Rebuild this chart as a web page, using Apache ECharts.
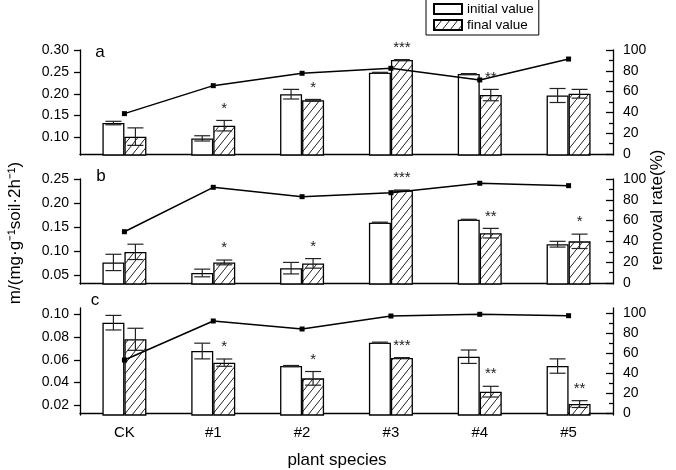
<!DOCTYPE html>
<html>
<head>
<meta charset="utf-8">
<script src="https://cdn.jsdelivr.net/npm/echarts@6/dist/echarts.min.js"></script>
<style>
html, body { margin: 0; padding: 0; background: #fff; }
#chart { width: 676px; height: 470px; }
</style>
</head>
<body>
<div id="chart"></div>
<script>
const species = ['CK', '#1', '#2', '#3', '#4', '#5']

// panel a
const initA = [0.133, 0.098, 0.199, 0.248, 0.245, 0.196]
const initErrA = [0.004, 0.006, 0.011, 0.001, 0.001, 0.016]
const finalA = [0.102, 0.127, 0.185, 0.277, 0.197, 0.200]
const finalErrA = [0.020, 0.012, 0.002, 0.001, 0.013, 0.010]
const rateA = [38.8, 65.7, 77.6, 82.4, 71.2, 91.3]
const starsA = ['', '*', '*', '***', '**', '']
const ticksA = [0.10, 0.15, 0.20, 0.25, 0.30]

// panel b
const initB = [0.076, 0.054, 0.064, 0.159, 0.165, 0.114]
const initErrB = [0.017, 0.008, 0.012, 0.001, 0.001, 0.006]
const finalB = [0.098, 0.076, 0.074, 0.226, 0.137, 0.120]
const finalErrB = [0.016, 0.005, 0.010, 0.001, 0.010, 0.015]
const rateB = [49.3, 92.0, 83.0, 86.8, 95.9, 93.6]
const starsB = ['', '*', '*', '***', '**', '*']
const ticksB = [0.05, 0.10, 0.15, 0.20, 0.25]

// panel c
const initC = [0.0926, 0.0677, 0.0545, 0.075, 0.0627, 0.0545]
const initErrC = [0.0064, 0.0069, 0.0005, 0.0005, 0.0059, 0.0063]
const finalC = [0.078, 0.0575, 0.0437, 0.0616, 0.032, 0.0211]
const finalErrC = [0.0097, 0.0032, 0.006, 0.0003, 0.0047, 0.003]
const rateC = [53.3, 92.3, 84.3, 97.3, 99.0, 97.6]
const starsC = ['', '*', '*', '***', '**', '**']
const ticksC = [0.02, 0.04, 0.06, 0.08, 0.10]

// removal rate axis
const rateTicks = [0, 20, 40, 60, 80, 100]
const rateMinorTicks = [10, 30, 50, 70, 90]

const FONT = '"Liberation Sans", Arial, sans-serif'

// hatch pattern for final value bars
const hatch = document.createElement('canvas')
hatch.width = 8
hatch.height = 10
const hctx = hatch.getContext('2d')
hctx.fillStyle = '#fff'
hctx.fillRect(0, 0, 8, 10)
hctx.strokeStyle = '#222'
hctx.lineWidth = 1
hctx.beginPath()
hctx.moveTo(-0.8, 11)
hctx.lineTo(8.8, -1)
hctx.stroke()
const hatchFill = { image: hatch, repeat: 'repeat' }

const panels = [
	{ init: initA, initErr: initErrA, fin: finalA, finErr: finalErrA, rate: rateA, stars: starsA, ticks: ticksA,
		top: 50, height: 105, min: 0.06, max: 0.30, rMin: -1, rMax: 100, name: 'a', nx: 100, ny: 52 },
	{ init: initB, initErr: initErrB, fin: finalB, finErr: finalErrB, rate: rateB, stars: starsB, ticks: ticksB,
		top: 179, height: 105, min: 0.031, max: 0.25, rMin: -1, rMax: 100, name: 'b', nx: 101, ny: 176 },
	{ init: initC, initErr: initErrC, fin: finalC, finErr: finalErrC, rate: rateC, stars: starsC, ticks: ticksC,
		top: 308, height: 107, min: 0.0115, max: 0.1055, rMin: -1.7, rMax: 105.3, name: 'c', nx: 95, ny: 300 }
]

const errorBar = (offset) => (params, api) => {
	const cat = api.value(0)
	const v = api.value(1)
	const e = api.value(2)
	const hi = api.coord([cat, v + e])
	const lo = api.coord([cat, v - e])
	const x = hi[0] + offset
	const st = { stroke: '#222', lineWidth: 1.2 }
	return {
		type: 'group',
		children: [
			{ type: 'line', shape: { x1: x, y1: hi[1], x2: x, y2: lo[1] }, style: st },
			{ type: 'line', shape: { x1: x - 8, y1: hi[1], x2: x + 8, y2: hi[1] }, style: st },
			{ type: 'line', shape: { x1: x - 8, y1: lo[1], x2: x + 8, y2: lo[1] }, style: st }
		]
	}
}

const grid = []
const xAxis = []
const yAxis = []
const series = []

panels.forEach((p, i) => {
	grid.push({ left: 80, right: 63, top: p.top, height: p.height })
	xAxis.push({
		type: 'category', gridIndex: i, data: species, position: 'bottom',
		axisLine: { lineStyle: { color: '#000', width: 1.3 } },
		axisTick: { alignWithLabel: true, length: 5, lineStyle: { color: '#000', width: 1.3 } },
		axisLabel: { show: i === 2, color: '#000', fontSize: 15, margin: 10 },
		splitLine: { show: false }
	})
	xAxis.push({
		type: 'category', gridIndex: i, data: species, position: 'bottom', offset: 0,
		axisLine: { show: false },
		axisTick: { length: 5, lineStyle: { color: '#000', width: 1.3 } },
		axisLabel: { show: false },
		splitLine: { show: false }
	})
	yAxis.push({
		type: 'value', gridIndex: i, position: 'left', min: p.min, max: p.max,
		axisLine: { show: true, lineStyle: { color: '#000', width: 1.3 } },
		axisTick: { show: true, customValues: p.ticks, length: 6, lineStyle: { color: '#000', width: 1.3 } },
		axisLabel: { customValues: p.ticks, formatter: (v) => v.toFixed(2), color: '#000', fontSize: 14, margin: 11 },
		splitLine: { show: false }
	})
	yAxis.push({
		type: 'value', gridIndex: i, position: 'right', min: p.rMin, max: p.rMax,
		axisLine: { show: true, lineStyle: { color: '#000', width: 1.3 } },
		axisTick: { show: true, inside: true, customValues: rateTicks, length: 7, lineStyle: { color: '#000', width: 1.3 } },
		axisLabel: { customValues: rateTicks, color: '#000', fontSize: 14, margin: 10 },
		splitLine: { show: false }
	})
	yAxis.push({
		type: 'value', gridIndex: i, position: 'right', offset: 0, min: p.rMin, max: p.rMax,
		axisLine: { show: false },
		axisTick: { show: true, inside: true, customValues: rateMinorTicks, length: 4, lineStyle: { color: '#000', width: 1.3 } },
		axisLabel: { show: false },
		splitLine: { show: false }
	})

	const xi = i * 2
	const yi = i * 3
	series.push({
		name: 'initial value', type: 'bar', xAxisIndex: xi, yAxisIndex: yi,
		data: p.init, barWidth: 22, barGap: '0%',
		itemStyle: { color: '#fff', borderColor: '#000', borderWidth: 1.3 }
	})
	series.push({
		name: 'final value', type: 'bar', xAxisIndex: xi, yAxisIndex: yi,
		data: p.fin, barWidth: 22, barGap: '0%',
		itemStyle: { color: hatchFill, borderColor: '#000', borderWidth: 1.3 }
	})
	series.push({
		type: 'custom', xAxisIndex: xi, yAxisIndex: yi, z: 3,
		renderItem: errorBar(-11), encode: { x: 0, y: 1 },
		data: p.init.map((v, k) => [k, v, p.initErr[k]])
	})
	series.push({
		type: 'custom', xAxisIndex: xi, yAxisIndex: yi, z: 3,
		renderItem: errorBar(11), encode: { x: 0, y: 1 },
		data: p.fin.map((v, k) => [k, v, p.finErr[k]])
	})
	series.push({
		name: 'removal rate', type: 'line', xAxisIndex: xi, yAxisIndex: yi + 1, z: 5,
		data: p.rate, symbol: 'rect', symbolSize: 5,
		lineStyle: { color: '#000', width: 1.5 }, itemStyle: { color: '#000' }
	})
	// significance marks above the final value bars
	series.push({
		type: 'custom', xAxisIndex: xi, yAxisIndex: yi, z: 6,
		encode: { x: 0, y: 1 },
		data: p.fin.map((v, k) => [k, v + p.finErr[k], p.stars[k]]),
		renderItem: (params, api) => {
			const pt = api.coord([api.value(0), api.value(1)])
			const s = p.stars[params.dataIndex]
			return {
				type: 'text',
				style: { text: s, x: pt[0] + 11, y: pt[1] - 12, align: 'center', verticalAlign: 'middle', font: '15px ' + FONT, fill: '#222' }
			}
		}
	})
})

const graphic = panels.map((p) => ({
	type: 'text', x: p.nx, y: p.ny,
	style: { text: p.name, align: 'center', verticalAlign: 'middle', font: '17px ' + FONT, fill: '#000' }
}))
graphic.push({
	type: 'text', x: 15, y: 233, rotation: Math.PI / 2,
	style: { text: 'm/(mg·g⁻¹soil·2h⁻¹)', align: 'center', verticalAlign: 'middle', font: '17px ' + FONT, fill: '#000' }
})
graphic.push({
	type: 'text', x: 657, y: 210, rotation: Math.PI / 2,
	style: { text: 'removal rate(%)', align: 'center', verticalAlign: 'middle', font: '17px ' + FONT, fill: '#000' }
})
graphic.push({
	type: 'text', x: 337, y: 460,
	style: { text: 'plant species', align: 'center', verticalAlign: 'middle', font: '17px ' + FONT, fill: '#000' }
})

const myChart = echarts.init(document.getElementById('chart'))
myChart.setOption({
	animation: false,
	textStyle: { fontFamily: FONT },
	legend: {
		data: ['initial value', 'final value'],
		orient: 'vertical', left: 426, top: -1,
		icon: 'rect', itemWidth: 28, itemHeight: 10, itemGap: 2,
		borderColor: '#000', borderWidth: 1, padding: [3, 5, 3, 7],
		textStyle: { fontSize: 13.5, color: '#000' }
	},
	grid,
	xAxis,
	yAxis,
	series,
	graphic
})
</script>
</body>
</html>
